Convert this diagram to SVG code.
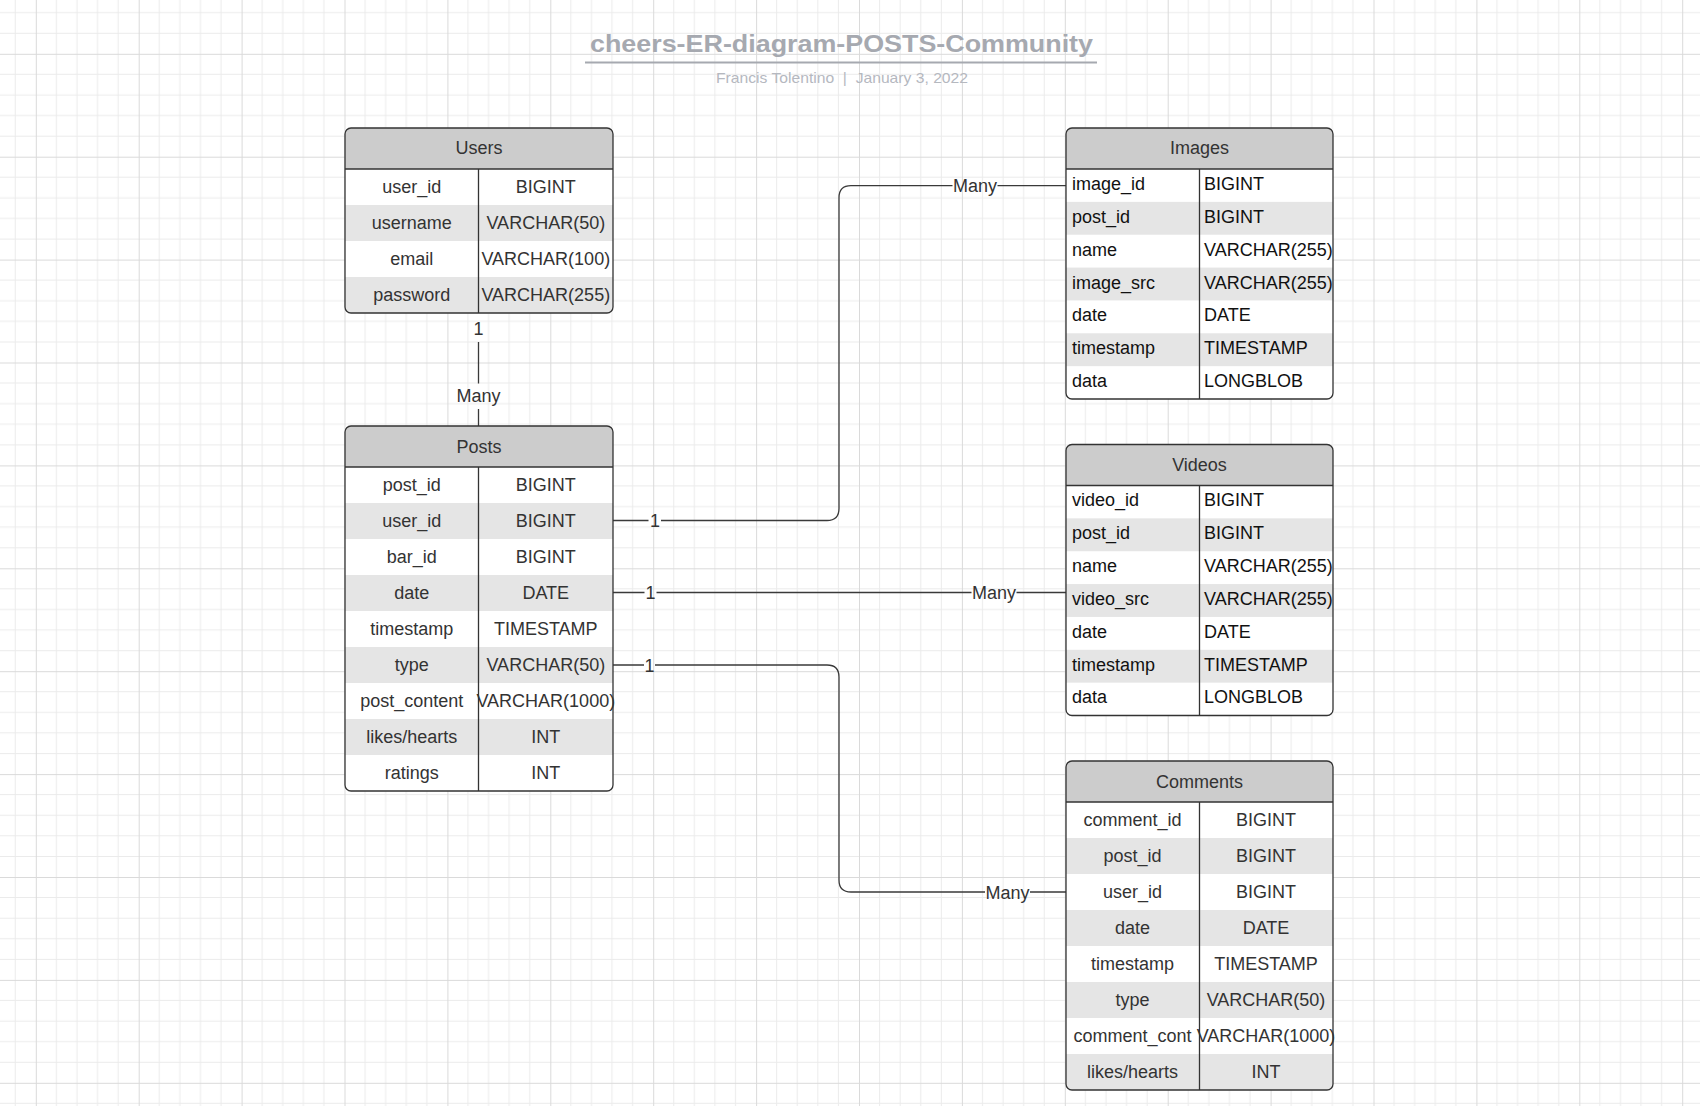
<svg xmlns="http://www.w3.org/2000/svg" width="1700" height="1106" viewBox="0 0 1700 1106">
<style>
.t{font-family:"Liberation Sans",Arial,Helvetica,sans-serif;font-size:18px;fill:#333}
.c{text-anchor:middle}
.k{fill:#111}
.hd{fill:#cccccc}
.z{fill:#e5e5e5}
.w{fill:#ffffff}
.ln{fill:none;stroke:#333;stroke-width:1.3}
.bd{fill:none;stroke:#333;stroke-width:1.3}
.cn{fill:none;stroke:#3a3a3a;stroke-width:1.3}
</style>
<defs>
<pattern id="grid" x="35.8" y="53.8" width="102.9" height="102.9" patternUnits="userSpaceOnUse">
<path d="M20.58 0V102.9M41.16 0V102.9M61.74 0V102.9M82.32 0V102.9M0 20.58H102.9M0 41.16H102.9M0 61.74H102.9M0 82.32H102.9" stroke="#ebebeb" stroke-width="1" fill="none"/>
<path d="M0.5 0V102.9M0 0.5H102.9" stroke="#dadada" stroke-width="1" fill="none"/>
</pattern>
<clipPath id="cu"><rect x="345" y="128" width="268" height="185" rx="6"/></clipPath>
<clipPath id="cp"><rect x="345" y="426" width="268" height="365" rx="6"/></clipPath>
<clipPath id="ci"><rect x="1066" y="128" width="267" height="271" rx="6"/></clipPath>
<clipPath id="cv"><rect x="1066" y="444.5" width="267" height="271" rx="6"/></clipPath>
<clipPath id="cc"><rect x="1066" y="761" width="267" height="329" rx="6"/></clipPath>
</defs>
<rect x="0" y="0" width="1700" height="1106" fill="#ffffff"/>
<rect x="0" y="0" width="1700" height="1106" fill="url(#grid)"/>

<g id="title">
<text x="841.5" y="52" text-anchor="middle" textLength="503" lengthAdjust="spacingAndGlyphs" style="font-family:'Liberation Sans',Arial,sans-serif;font-size:24.5px;font-weight:bold;fill:#a6a9b0">cheers-ER-diagram-POSTS-Community</text>
<path d="M585 62.5H1097" stroke="#a6a9b0" stroke-width="2"/>
<text x="842" y="83.3" text-anchor="middle" xml:space="preserve" textLength="252" lengthAdjust="spacingAndGlyphs" style="font-family:'Liberation Sans',Arial,sans-serif;font-size:15px;fill:#b5b8bf">Francis Tolentino  |  January 3, 2022</text>
</g>

<g id="connectors">
<path class="cn" d="M478.5 342V383.5M478.5 409V426"/>
<text class="t c" x="478.5" y="335">1</text>
<text class="t c" x="478.5" y="401.5">Many</text>

<path class="cn" d="M613 520.5H648.5M661 520.5H827Q839 520.5 839 508.5V197.7Q839 185.7 851 185.7H952.5M997.5 185.7H1066"/>
<text class="t c" x="655" y="527">1</text>
<text class="t c" x="975" y="192.2">Many</text>

<path class="cn" d="M613 592.5H644.5M656.5 592.5H971.5M1016.5 592.5H1066"/>
<text class="t c" x="650.5" y="599">1</text>
<text class="t c" x="994" y="599">Many</text>

<path class="cn" d="M613 665H644M655 665H827Q839 665 839 677V880Q839 892 851 892H985M1030 892H1066"/>
<text class="t c" x="649.5" y="671.5">1</text>
<text class="t c" x="1007.5" y="898.5">Many</text>
</g>

<g id="users">
<g clip-path="url(#cu)">
<rect class="hd" x="345" y="128" width="268" height="41"/>
<rect class="w" x="345" y="169" width="268" height="144"/>
<rect class="z" x="345" y="205" width="268" height="36"/>
<rect class="z" x="345" y="277" width="268" height="36"/>
</g>
<path class="ln" d="M345 169H613M478.5 169V313"/>
<rect class="bd" x="345" y="128" width="268" height="185" rx="6"/>
<text class="t c" x="479" y="154.3">Users</text>
<text class="t c" x="411.8" y="193">user_id</text>
<text class="t c" x="545.8" y="193">BIGINT</text>
<text class="t c" x="411.8" y="229">username</text>
<text class="t c" x="545.8" y="229">VARCHAR(50)</text>
<text class="t c" x="411.8" y="265">email</text>
<text class="t c" x="545.8" y="265">VARCHAR(100)</text>
<text class="t c" x="411.8" y="301">password</text>
<text class="t c" x="545.8" y="301">VARCHAR(255)</text>
</g>

<g id="posts">
<g clip-path="url(#cp)">
<rect class="hd" x="345" y="426" width="268" height="41"/>
<rect class="w" x="345" y="467" width="268" height="324"/>
<rect class="z" x="345" y="503" width="268" height="36"/>
<rect class="z" x="345" y="575" width="268" height="36"/>
<rect class="z" x="345" y="647" width="268" height="36"/>
<rect class="z" x="345" y="719" width="268" height="36"/>
</g>
<path class="ln" d="M345 467H613M478.5 467V791"/>
<rect class="bd" x="345" y="426" width="268" height="365" rx="6"/>
<text class="t c" x="479" y="452.5">Posts</text>
<text class="t c" x="411.8" y="490.5">post_id</text>
<text class="t c" x="545.8" y="490.5">BIGINT</text>
<text class="t c" x="411.8" y="526.5">user_id</text>
<text class="t c" x="545.8" y="526.5">BIGINT</text>
<text class="t c" x="411.8" y="562.5">bar_id</text>
<text class="t c" x="545.8" y="562.5">BIGINT</text>
<text class="t c" x="411.8" y="598.5">date</text>
<text class="t c" x="545.8" y="598.5">DATE</text>
<text class="t c" x="411.8" y="634.5">timestamp</text>
<text class="t c" x="545.8" y="634.5">TIMESTAMP</text>
<text class="t c" x="411.8" y="670.5">type</text>
<text class="t c" x="545.8" y="670.5">VARCHAR(50)</text>
<text class="t c" x="411.8" y="706.5">post_content</text>
<text class="t c" x="545.8" y="706.5">VARCHAR(1000)</text>
<text class="t c" x="411.8" y="742.5">likes/hearts</text>
<text class="t c" x="545.8" y="742.5">INT</text>
<text class="t c" x="411.8" y="778.5">ratings</text>
<text class="t c" x="545.8" y="778.5">INT</text>
</g>

<g id="images">
<g clip-path="url(#ci)">
<rect class="hd" x="1066" y="128" width="267" height="41"/>
<rect class="w" x="1066" y="169" width="267" height="230"/>
<rect class="z" x="1066" y="201.86" width="267" height="32.86"/>
<rect class="z" x="1066" y="267.57" width="267" height="32.86"/>
<rect class="z" x="1066" y="333.29" width="267" height="32.86"/>
</g>
<path class="ln" d="M1066 169H1333M1199.5 169V399"/>
<rect class="bd" x="1066" y="128" width="267" height="271" rx="6"/>
<text class="t c" x="1199.5" y="153.8">Images</text>
<text class="t k" x="1072" y="190">image_id</text>
<text class="t k" x="1204" y="190">BIGINT</text>
<text class="t k" x="1072" y="222.8">post_id</text>
<text class="t k" x="1204" y="222.8">BIGINT</text>
<text class="t k" x="1072" y="255.7">name</text>
<text class="t k" x="1204" y="255.7">VARCHAR(255)</text>
<text class="t k" x="1072" y="288.6">image_src</text>
<text class="t k" x="1204" y="288.6">VARCHAR(255)</text>
<text class="t k" x="1072" y="321.4">date</text>
<text class="t k" x="1204" y="321.4">DATE</text>
<text class="t k" x="1072" y="354.3">timestamp</text>
<text class="t k" x="1204" y="354.3">TIMESTAMP</text>
<text class="t k" x="1072" y="387.1">data</text>
<text class="t k" x="1204" y="387.1">LONGBLOB</text>
</g>

<g id="videos">
<g clip-path="url(#cv)">
<rect class="hd" x="1066" y="444.5" width="267" height="41"/>
<rect class="w" x="1066" y="485.5" width="267" height="230"/>
<rect class="z" x="1066" y="518.36" width="267" height="32.86"/>
<rect class="z" x="1066" y="584.07" width="267" height="32.86"/>
<rect class="z" x="1066" y="649.79" width="267" height="32.86"/>
</g>
<path class="ln" d="M1066 485.5H1333M1199.5 485.5V715.5"/>
<rect class="bd" x="1066" y="444.5" width="267" height="271" rx="6"/>
<text class="t c" x="1199.5" y="471">Videos</text>
<text class="t k" x="1072" y="506.2">video_id</text>
<text class="t k" x="1204" y="506.2">BIGINT</text>
<text class="t k" x="1072" y="539.1">post_id</text>
<text class="t k" x="1204" y="539.1">BIGINT</text>
<text class="t k" x="1072" y="571.9">name</text>
<text class="t k" x="1204" y="571.9">VARCHAR(255)</text>
<text class="t k" x="1072" y="604.8">video_src</text>
<text class="t k" x="1204" y="604.8">VARCHAR(255)</text>
<text class="t k" x="1072" y="637.7">date</text>
<text class="t k" x="1204" y="637.7">DATE</text>
<text class="t k" x="1072" y="670.5">timestamp</text>
<text class="t k" x="1204" y="670.5">TIMESTAMP</text>
<text class="t k" x="1072" y="703.4">data</text>
<text class="t k" x="1204" y="703.4">LONGBLOB</text>
</g>

<g id="comments">
<g clip-path="url(#cc)">
<rect class="hd" x="1066" y="761" width="267" height="41"/>
<rect class="w" x="1066" y="802" width="267" height="288"/>
<rect class="z" x="1066" y="838" width="267" height="36"/>
<rect class="z" x="1066" y="910" width="267" height="36"/>
<rect class="z" x="1066" y="982" width="267" height="36"/>
<rect class="z" x="1066" y="1054" width="267" height="36"/>
</g>
<path class="ln" d="M1066 802H1333M1199.5 802V1090"/>
<rect class="bd" x="1066" y="761" width="267" height="329" rx="6"/>
<text class="t c" x="1199.5" y="787.5">Comments</text>
<text class="t c" x="1132.5" y="826">comment_id</text>
<text class="t c" x="1266" y="826">BIGINT</text>
<text class="t c" x="1132.5" y="862">post_id</text>
<text class="t c" x="1266" y="862">BIGINT</text>
<text class="t c" x="1132.5" y="898">user_id</text>
<text class="t c" x="1266" y="898">BIGINT</text>
<text class="t c" x="1132.5" y="934">date</text>
<text class="t c" x="1266" y="934">DATE</text>
<text class="t c" x="1132.5" y="970">timestamp</text>
<text class="t c" x="1266" y="970">TIMESTAMP</text>
<text class="t c" x="1132.5" y="1006">type</text>
<text class="t c" x="1266" y="1006">VARCHAR(50)</text>
<text class="t c" x="1132.5" y="1042">comment_cont</text>
<text class="t c" x="1266" y="1042">VARCHAR(1000)</text>
<text class="t c" x="1132.5" y="1078">likes/hearts</text>
<text class="t c" x="1266" y="1078">INT</text>
</g>
</svg>
